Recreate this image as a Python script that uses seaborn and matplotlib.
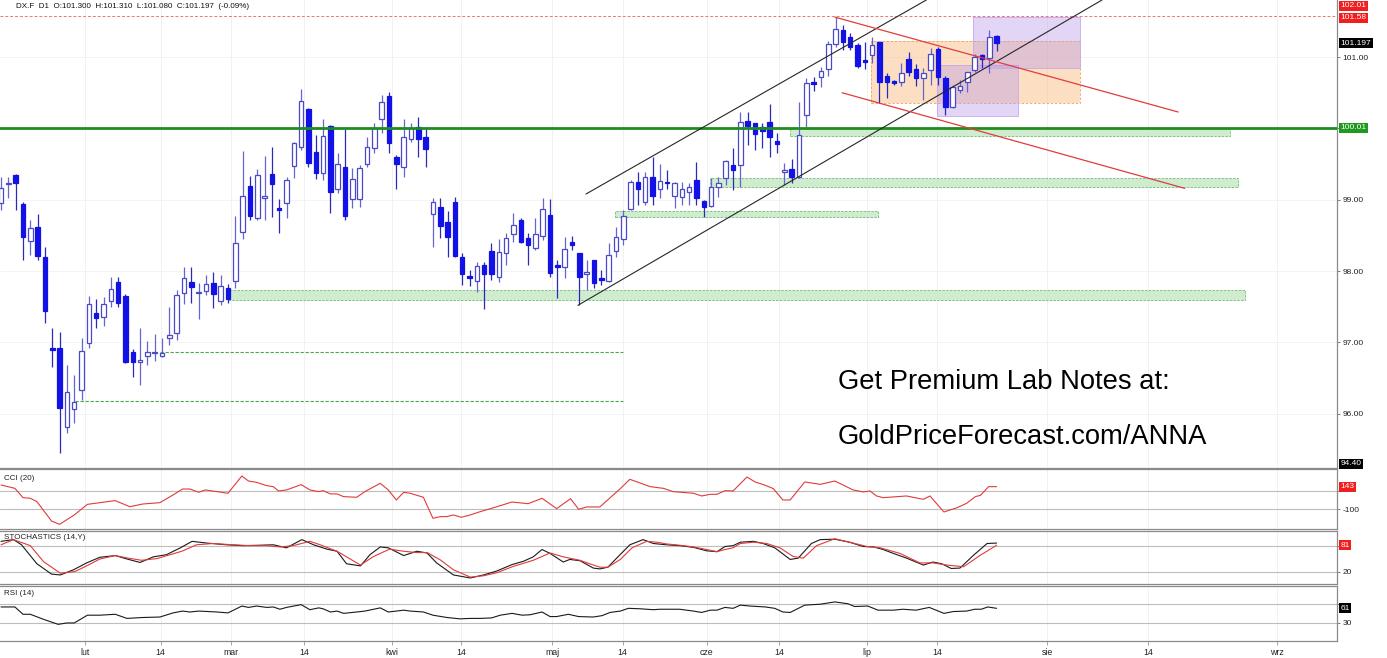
import numpy as np
import matplotlib
matplotlib.use("Agg")
import matplotlib.pyplot as plt
import seaborn as sns
from matplotlib.patches import Rectangle

# ---- daily candles ----
opens = [98.95, 99.22, 99.35, 98.94, 98.42, 98.62, 98.20, 96.92, 96.92, 95.81,
         96.06, 96.33, 96.99, 97.41, 97.36, 97.58, 97.85, 97.65, 96.86, 96.72,
         96.81, 96.85, 96.81, 97.06, 97.13, 97.69, 97.85, 97.69, 97.72, 97.83,
         97.58, 97.77, 97.86, 98.55, 99.19, 98.74, 99.03, 99.36, 98.88, 98.95,
         99.47, 99.74, 100.27, 99.67, 99.37, 100.03, 99.15, 99.46, 99.01, 99.01,
         99.50, 99.72, 100.13, 100.45, 99.60, 99.46, 99.85, 100.02, 99.88, 98.80,
         98.90, 98.69, 98.97, 98.20, 97.93, 97.86, 98.08, 98.28, 97.92, 98.25,
         98.52, 98.71, 98.46, 98.32, 98.49, 98.78, 98.07, 98.06, 98.41, 98.25,
         97.96, 98.15, 97.89, 97.86, 98.28, 98.45, 98.87, 99.25, 98.97, 99.32,
         99.15, 99.24, 99.05, 99.04, 99.11, 99.28, 98.98, 98.91, 99.18, 99.30,
         99.49, 99.49, 100.10, 100.07, 100.02, 100.09, 99.82, 99.39, 99.43, 99.32,
         100.19, 100.65, 100.72, 100.83, 101.18, 101.38, 101.28, 101.17, 100.96, 101.03,
         101.21, 100.73, 100.66, 100.65, 100.97, 100.83, 100.71, 100.82, 101.11, 100.71,
         100.30, 100.54, 100.65, 100.82, 101.03, 100.99, 101.300]
highs = [99.32, 99.32, 99.36, 98.97, 98.71, 98.80, 98.34, 97.20, 97.14, 96.68,
         96.54, 97.06, 97.65, 97.61, 97.63, 97.92, 97.92, 97.68, 96.91, 97.20,
         97.02, 97.12, 97.06, 97.49, 97.73, 98.06, 98.06, 97.83, 97.94, 97.99,
         97.94, 97.82, 98.77, 99.68, 99.33, 99.43, 99.61, 99.74, 99.01, 99.32,
         99.81, 100.55, 100.29, 99.91, 100.13, 100.05, 99.65, 99.99, 99.44, 99.49,
         99.88, 100.07, 100.47, 100.51, 99.63, 100.13, 100.07, 100.16, 100.02, 99.02,
         99.02, 98.84, 99.04, 98.25, 98.01, 98.13, 98.13, 98.39, 98.45, 98.53,
         98.81, 98.74, 98.53, 98.74, 99.02, 99.01, 98.15, 98.48, 98.49, 98.26,
         98.15, 98.16, 98.01, 98.39, 98.62, 98.85, 99.28, 99.39, 99.39, 99.60,
         99.50, 99.42, 99.25, 99.25, 99.23, 99.53, 98.99, 99.30, 99.32, 99.56,
         99.72, 100.23, 100.23, 100.08, 100.08, 100.34, 99.93, 99.51, 99.57, 100.37,
         100.71, 100.72, 100.86, 101.22, 101.56, 101.45, 101.34, 101.20, 101.21, 101.28,
         101.21, 100.78, 100.68, 100.92, 101.07, 100.90, 100.85, 101.13, 101.14, 100.73,
         100.61, 100.68, 100.79, 101.04, 101.04, 101.38, 101.310]
lows = [98.85, 99.02, 98.85, 98.15, 98.22, 98.15, 97.27, 96.65, 95.45, 95.73,
        95.87, 96.20, 96.92, 97.20, 97.23, 97.49, 97.49, 96.71, 96.51, 96.40,
        96.69, 96.74, 96.80, 96.96, 97.03, 97.54, 97.55, 97.33, 97.66, 97.48,
        97.52, 97.55, 97.76, 98.45, 98.71, 98.71, 98.71, 98.76, 98.53, 98.74,
        99.30, 99.70, 99.46, 99.29, 99.28, 98.81, 99.09, 98.71, 98.88, 98.90,
        99.46, 99.65, 99.93, 99.65, 99.15, 99.32, 99.81, 99.60, 99.46, 98.34,
        98.46, 98.20, 98.20, 97.80, 97.79, 97.70, 97.47, 97.87, 97.85, 98.08,
        98.41, 98.40, 98.08, 98.29, 98.43, 97.92, 97.62, 97.90, 98.29, 97.52,
        97.73, 97.77, 97.80, 97.85, 98.20, 98.37, 98.85, 98.93, 98.93, 98.93,
        99.02, 99.15, 98.88, 98.93, 98.93, 98.93, 98.76, 98.90, 99.04, 99.21,
        99.14, 99.18, 99.77, 99.70, 99.72, 99.60, 99.65, 99.21, 99.23, 99.30,
        100.02, 100.52, 100.58, 100.73, 101.14, 101.10, 101.10, 100.85, 100.83, 100.92,
        100.36, 100.43, 100.61, 100.59, 100.73, 100.59, 100.40, 100.61, 100.61, 100.19,
        100.29, 100.50, 100.51, 100.79, 100.85, 100.78, 101.080]
closes = [99.16, 99.24, 99.23, 98.48, 98.60, 98.21, 97.44, 96.89, 96.08, 96.30,
          96.16, 96.88, 97.54, 97.34, 97.54, 97.75, 97.55, 96.72, 96.72, 96.75,
          96.86, 96.85, 96.85, 97.10, 97.66, 97.90, 97.78, 97.69, 97.82, 97.68,
          97.79, 97.61, 98.39, 99.05, 98.77, 99.35, 99.04, 99.22, 98.85, 99.28,
          99.79, 100.38, 99.51, 99.37, 99.89, 99.11, 99.50, 98.77, 99.29, 99.44,
          99.74, 100.00, 100.37, 99.79, 99.50, 99.88, 100.00, 99.85, 99.71, 98.97,
          98.63, 98.48, 98.21, 97.96, 97.90, 98.07, 97.96, 97.96, 98.27, 98.46,
          98.64, 98.41, 98.36, 98.52, 98.87, 97.97, 98.06, 98.31, 98.36, 97.92,
          97.99, 97.83, 97.88, 98.22, 98.48, 98.77, 99.25, 99.15, 99.32, 99.05,
          99.26, 99.23, 99.24, 99.15, 99.18, 99.02, 98.90, 99.18, 99.23, 99.54,
          99.42, 100.09, 100.03, 99.92, 99.96, 99.88, 99.78, 99.42, 99.32, 99.91,
          100.64, 100.62, 100.80, 101.18, 101.39, 101.21, 101.14, 100.87, 100.93, 101.17,
          100.65, 100.65, 100.64, 100.78, 100.79, 100.71, 100.78, 101.04, 100.72, 100.30,
          100.58, 100.59, 100.79, 101.00, 100.97, 101.28, 101.197]

# ---- indicators (vertices, x = bar index) ----
cci_x = [0, 1.9, 3, 4, 4.9, 6.9, 8, 10, 11.8, 13.5, 15.6, 17.6, 19.4, 21.7, 23.5, 24.8,
         25.8, 27, 27.9, 29.5, 31, 32.9, 33.8, 34.9, 36.3, 37.2, 37.9, 39, 41, 42.2, 43.4,
         44, 45, 45.9, 46.8, 48.6, 49.7, 51.8, 52.9, 54, 55, 55.9, 57.7, 59, 60, 60.9,
         61.8, 62.9, 64.1, 65.4, 67.3, 69.8, 72, 73.9, 75.9, 77.8, 78.9, 80, 81.8, 84.6,
         85.9, 88.7, 90.5, 91.8, 94.6, 95.7, 96.9, 97.8, 98.9, 100, 101.9, 103, 104.4,
         105.5, 106.8, 107.8, 109.8, 111.9, 113.9, 116.4, 117.8, 118.7, 119.6, 120.5,
         123.7, 126, 126.9, 128.8, 130.6, 131.9, 133.1, 133.8, 134.9, 136]
cci_v = [161, 125, 25, 18, -18, -226, -262, -161, -47, -29, -7, -72, -43, -29, 54, 118,
         118, 83, 108, 90, 72, 258, 204, 190, 154, 143, 97, 108, 165, 108, 90,
         100, 65, 65, 36, 29, 90, 179, 108, 0, 82, 72, 29, -197, -179, -179,
         -161, -186, -161, -127, -83, -22, -40, 18, -93, 14, -100, -75, -75, 122,
         222, 143, 125, 90, 72, 43, 61, 61, 100, 97, 247, 194, 158,
         122, 0, 0, 194, 168, 204, 108, 86, 97, 43, 25,
         43, 7, 43, -129, -83, -36, 36, 50, 143, 143]

stk_x = [0, 1.7, 2.8, 4.9, 6.9, 8.1, 9.9, 11.7, 13.5, 15.6, 17.2, 19, 20.8, 22.6, 24.5,
         26.1, 28.1, 30.8, 33.1, 35.4, 37.2, 39, 41.1, 42.7, 44.5, 45.9, 47.2, 49.1, 50.4,
         51.8, 52.9, 55, 56.8, 58.2, 59.5, 61.8, 64.1, 65.9, 67.7, 69.8, 71.4, 72.7, 73.9,
         75, 76.8, 77.7, 79.1, 80.9, 81.8, 82.9, 84.1, 85.9, 87.7, 89.1, 90.9, 92.7, 94.6,
         96.4, 97.8, 98.9, 100, 101, 102.8, 104.1, 105.7, 107.8, 108.9, 110.7, 111.9,
         113.9, 115.9, 117.8, 119.2, 120.5, 121.9, 123.7, 126, 127.3, 128.5, 129.8, 131,
         132.8, 134.7, 136]
stk_v = [90, 94, 82, 38, 14, 12, 24, 40, 53, 57, 49, 41, 54, 59, 75,
         90, 86, 82, 80, 81, 82, 75, 94, 82, 72, 67, 38, 33, 59,
         77, 75, 57, 67, 63, 40, 12, 5, 12, 21, 36, 44, 54, 71,
         62, 42, 48, 45, 28, 26, 30, 51, 82, 94, 85, 82, 80, 76,
         68, 66, 78, 80, 88, 90, 85, 75, 48, 51, 85, 94,
         95, 88, 78, 77, 71, 62, 51, 35, 42, 38, 27, 28,
         57, 85, 86]
std_x = [0, 1.7, 4, 5.8, 8.1, 10.1, 11.7, 13.5, 15.6, 17.4, 19.2, 21.3, 23.1, 24.7, 26.7,
         29, 31.7, 34, 36.3, 38.1, 39.9, 42.2, 43.6, 45.9, 49.1, 50.9, 53.1, 55, 56.8, 58.2,
         60, 61.8, 64.1, 65.9, 67.7, 70, 72.7, 75, 76.8, 79.1, 80.4, 81.8, 82.9, 84.6, 86.2,
         88.2, 89.6, 90.9, 92.7, 94.6, 96.4, 97.8, 98.9, 100, 101, 102.8, 104.6, 106.4,
         108.2, 109.6, 111.4, 113.9, 115.9, 118.3, 120.1, 122.8, 125.5, 127.3, 129.2,
         131.5, 133.7, 136]
std_v = [82, 94, 80, 43, 16, 20, 33, 49, 57, 51, 46, 50, 59, 67, 82,
         85, 82, 80, 80, 77, 80, 90, 82, 67, 35, 55, 72, 67, 64, 64,
         47, 24, 7, 10, 17, 32, 46, 63, 54, 46, 38, 30, 30, 48, 75,
         90, 88, 84, 81, 77, 71, 66, 71, 75, 85, 88, 85, 75,
         55, 51, 80, 96, 88, 78, 75, 62, 40, 40, 35,
         31, 57, 81]

rsi_x = [0, 1.9, 3, 4, 5.8, 7.8, 9, 10, 11.8, 13.5, 15.6, 17.2, 19.4, 21.7, 23.5, 24.8,
         25.8, 27, 29.5, 31, 32.9, 33.8, 34.9, 36.3, 37.2, 38.1, 39, 41, 42.2, 43.4, 44,
         45, 45.9, 46.8, 48.6, 49.7, 51.8, 52.9, 54, 55, 55.9, 57.7, 59, 60.9, 62.7, 64.1,
         65.4, 67, 68.2, 69.8, 71.2, 72.3, 73.9, 75, 75.9, 77.5, 78.9, 80.9, 82.1, 83.2,
         84.6, 85.7, 87.3, 89.1, 90, 92.7, 94.6, 95.7, 96.9, 97.8, 98.9, 100, 101, 102.3,
         104.4, 105.7, 106.8, 107.8, 109.8, 111.9, 113.9, 115.7, 116.6, 118.4, 119.8,
         121.9, 123.2, 125, 126.8, 128.8, 130.1, 131.9, 133, 133.9, 134.8, 136]
rsi_v = [64, 64, 48, 48, 37, 26, 29, 29, 46, 46, 48, 39, 41, 42, 51, 55,
         53, 55, 53, 51, 66, 63, 66, 63, 64, 59, 63, 69, 58, 62, 60,
         53, 55, 50, 53, 55, 62, 53, 55, 57, 55, 53, 46, 41, 38, 39,
         39, 40, 46, 50, 46, 47, 53, 43, 43, 48, 43, 42, 45, 52,
         55, 61, 60, 58, 59, 59, 55, 52, 57, 57, 63, 61, 68, 66,
         64, 61, 53, 52, 68, 70, 75, 71, 65, 66, 57,
         57, 59, 57, 63, 50, 54, 55, 59, 59, 64, 61]

# ---- drawings on the price panel ----
green_level = 100.01
red_level = 101.58
zones = [(107.8, 167.9, 99.89, 100.01), (96.9, 169.0, 99.18, 99.30),
         (83.9, 119.8, 98.76, 98.84), (31.0, 169.9, 97.59, 97.73)]
thin_levels = [(21.7, 85.0, 96.86), (10.1, 85.0, 96.18)]
channel = [((79.9, 99.08), (126.4, 101.80)), ((78.8, 97.52), (150.4, 101.80))]
red_lines = [((113.9, 101.56), (160.8, 100.23)), ((114.9, 100.50), (161.7, 99.16))]
orange_box = (118.9, 147.4, 100.36, 101.22)
purple_boxes = [(127.9, 138.9, 100.17, 100.89), (132.8, 147.4, 100.84, 101.56)]

tick_pos = [11.5, 21.8, 31.4, 41.4, 53.4, 62.8, 75.3, 84.9, 96.4, 106.3, 118.3, 127.9,
            142.9, 156.7, 174.3]
tick_labels = ["lut", "14", "mar", "14", "kwi", "14", "maj", "14", "cze", "14", "lip",
               "14", "sie", "14", "wrz"]

sns.set_theme(style="white")
plt.rcParams["font.family"] = ["Liberation Sans", "DejaVu Sans"]

W, H = 1387, 658
fig = plt.figure(figsize=(W / 100, H / 100), dpi=100)


def panel(top, bottom):
    a = fig.add_axes([0, 1 - bottom / H, 1337 / W, (bottom - top) / H])
    a.set_xlim(-0.14, 182.5)
    a.set_facecolor("white")
    a.spines["left"].set_visible(False)
    for s in ("top", "bottom", "right"):
        a.spines[s].set_color("#8a8a8a")
        a.spines[s].set_linewidth(0.9)
    a.yaxis.tick_right()
    a.tick_params(axis="y", length=2.5, width=0.6, color="#666666", labelsize=6,
                  pad=1.5, labelcolor="#222222", right=True, left=False)
    a.set_xticks(tick_pos)
    a.grid(True, axis="x", color="#efefef", lw=0.6)
    a.set_axisbelow(True)
    return a


def tag(a, y, text, fc, z=10):
    a.text(1.0025, y, text, transform=a.get_yaxis_transform(), color="white",
           fontsize=6, va="center", ha="left", clip_on=False, zorder=z,
           bbox=dict(boxstyle="square,pad=0.2", fc=fc, ec="none"))


# ---- price panel ----
ax = panel(0, 468)
ax.spines["top"].set_visible(False)
ax.set_ylim(95.24, 101.80)
ax.set_yticks([96, 97, 98, 99, 100, 101])
ax.set_yticklabels([f"{v:.2f}" for v in [96, 97, 98, 99, 100, 101]])
ax.tick_params(axis="x", length=0, labelbottom=False)
ax.grid(True, axis="y", color="#f2f2f2", lw=0.6)

x0b, x1b, y0b, y1b = orange_box
ax.add_patch(Rectangle((x0b, y0b), x1b - x0b, y1b - y0b, fc="#f9b878", alpha=0.45,
                       ec="none", zorder=1))
ax.add_patch(Rectangle((x0b, y0b), x1b - x0b, y1b - y0b, fc="none", ec="#f0a060",
                       lw=0.6, ls=(0, (3, 2)), zorder=1))
for x0b, x1b, y0b, y1b in purple_boxes:
    ax.add_patch(Rectangle((x0b, y0b), x1b - x0b, y1b - y0b, fc="#b898ea", alpha=0.4,
                           ec="none", zorder=1))
    ax.add_patch(Rectangle((x0b, y0b), x1b - x0b, y1b - y0b, fc="none", ec="#c4a8ec",
                           lw=0.6, zorder=1))

for x0z, x1z, lo, hi in zones:
    ax.add_patch(Rectangle((x0z, lo), x1z - x0z, hi - lo, fc="#bfe6bf", alpha=0.75,
                           ec="#4aa84a", lw=0.6, ls=(0, (3, 1.5)), zorder=1.5))
for x0z, x1z, lv in thin_levels:
    ax.hlines(lv, x0z, x1z, color="#4aa84a", lw=0.8, ls=(0, (3, 1.5)), zorder=1.5)

idx = np.arange(len(opens))
o, h, l, c = (np.array(v) for v in (opens, highs, lows, closes))
up = c >= o
lo_body = np.minimum(o, c)
h_body = np.maximum(np.abs(c - o), 0.02)
ax.vlines(idx[up], l[up], h[up], color="#6464d2", lw=0.9, zorder=2)
ax.vlines(idx[~up], l[~up], h[~up], color="#2a2ab8", lw=0.9, zorder=2)
ax.bar(idx[up], h_body[up], bottom=lo_body[up], width=0.62, color="white",
       edgecolor="#4a4ac8", linewidth=0.9, zorder=3)
ax.bar(idx[~up], h_body[~up], bottom=lo_body[~up], width=0.62, color="#1212e6",
       edgecolor="#1212e6", linewidth=0.9, zorder=3)

ax.axhline(red_level, color="#e87878", lw=0.7, ls=(0, (3, 2)), zorder=4)
ax.axhline(green_level, color="#1e8c1e", lw=2.0, zorder=4)
for (xa, ya), (xb, yb) in channel:
    ax.plot([xa, xb], [ya, yb], color="#262626", lw=0.8, zorder=4)
for (xa, ya), (xb, yb) in red_lines:
    ax.plot([xa, xb], [ya, yb], color="#e23c3c", lw=0.9, zorder=4)

tag(ax, 101.72, "102.01", "#f21d1d")
tag(ax, red_level - 0.03, f"{red_level:.2f}", "#f21d1d")
tag(ax, closes[-1], f"{closes[-1]:.3f}", "black")
tag(ax, green_level, f"{green_level:.2f}", "#1e9a1e")
tag(ax, 95.30, "94.40", "black")

# ---- CCI ----
ax_cci = panel(469, 529)
ax_cci.set_ylim(-312, 333)
for lv in (100, -100):
    ax_cci.axhline(lv, color="#bdbdbd", lw=0.8, zorder=1)
ax_cci.set_yticks([100, -100])
ax_cci.set_yticklabels(["", "-100"])
ax_cci.tick_params(axis="x", length=0, labelbottom=False)
sns.lineplot(x=cci_x, y=cci_v, ax=ax_cci, color="#e23a3a", lw=0.8, zorder=3)
ax_cci.set_xlim(-0.14, 182.5)
ax_cci.text(0.003, 0.85, "CCI (20)", transform=ax_cci.transAxes, fontsize=5.8,
            va="center", color="#222222")
tag(ax_cci, cci_v[-1], f"{cci_v[-1]}", "#f21d1d")

# ---- Stochastics ----
ax_st = panel(531, 584)
ax_st.set_ylim(-9, 114)
for lv in (80, 20):
    ax_st.axhline(lv, color="#bdbdbd", lw=0.8, zorder=1)
ax_st.set_yticks([80, 20])
ax_st.set_yticklabels(["", "20"])
ax_st.tick_params(axis="x", length=0, labelbottom=False)
sns.lineplot(x=stk_x, y=stk_v, ax=ax_st, color="#1a1a1a", lw=0.8, zorder=3)
sns.lineplot(x=std_x, y=std_v, ax=ax_st, color="#e23a3a", lw=0.8, zorder=3)
ax_st.set_xlim(-0.14, 182.5)
ax_st.text(0.003, 0.87, "STOCHASTICS (14,Y)", transform=ax_st.transAxes, fontsize=5.8,
           va="center", color="#222222")
tag(ax_st, std_v[-1], f"{std_v[-1]}", "#f21d1d")

# ---- RSI ----
ax_rsi = panel(586, 641)
ax_rsi.set_ylim(-10.4, 109.8)
for lv in (70, 30):
    ax_rsi.axhline(lv, color="#bdbdbd", lw=0.8, zorder=1)
ax_rsi.set_yticks([70, 30])
ax_rsi.set_yticklabels(["", "30"])
sns.lineplot(x=rsi_x, y=rsi_v, ax=ax_rsi, color="#1a1a1a", lw=0.8, zorder=3)
ax_rsi.set_xlim(-0.14, 182.5)
ax_rsi.set_xticklabels(tick_labels)
ax_rsi.tick_params(axis="x", length=3, width=0.6, color="#999999", labelsize=6.3,
                   pad=2, labelcolor="#222222", bottom=True)
ax_rsi.text(0.003, 0.87, "RSI (14)", transform=ax_rsi.transAxes, fontsize=5.8,
            va="center", color="#222222")
tag(ax_rsi, rsi_v[-1], f"{rsi_v[-1]}", "black")

for a in (ax, ax_cci, ax_st, ax_rsi):
    a.set_xlabel("")
    a.set_ylabel("")

# ---- header and promo text ----
fig.text(16 / W, 1 - 7 / H,
         f"DX.F  D1  O:{opens[-1]:.3f}  H:{highs[-1]:.3f}  L:{lows[-1]:.3f}  "
         f"C:{closes[-1]:.3f}  (-0.09%)",
         fontsize=5.8, va="center", ha="left", color="#111111")
fig.text(838 / W, 1 - 382 / H, "Get Premium Lab Notes at:", fontsize=19.7,
         va="center", ha="left", color="black")
fig.text(838 / W, 1 - 437 / H, "GoldPriceForecast.com/ANNA", fontsize=19.7,
         va="center", ha="left", color="black")

fig.savefig("out.png", dpi=100, facecolor="white")
